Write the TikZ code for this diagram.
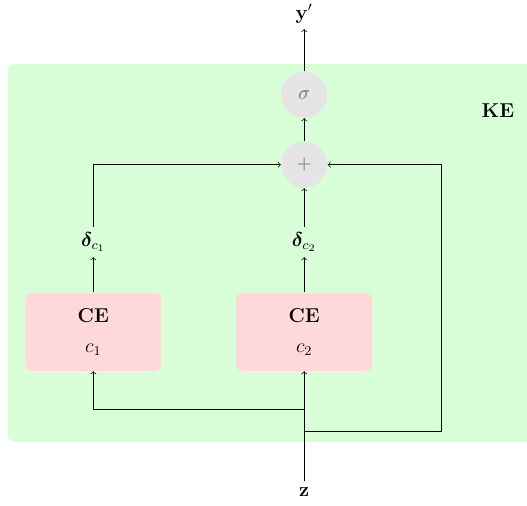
\documentclass[tikz,border=0pt]{standalone}
\usepackage{amsmath,amssymb,bm}
\usepackage{xcolor}
\usepackage{tikz}
\usetikzlibrary{positioning,calc,backgrounds}
\tikzstyle{ce}=[rectangle, rounded corners=4pt, fill=red!15,
  minimum width=2.86cm, minimum height=1.64cm, align=center]
\tikzstyle{op}=[circle, fill=black!10, minimum size=0.97cm, inner sep=0pt, text=black!60]
\tikzstyle{arrow}=[->]

\begin{document}
\begin{tikzpicture}[on grid, node distance=1.89cm and 4.43cm, every node/.style={font=\large}]
\node[ce] (ce2) {\textbf{CE}\\[4pt]$c_2$};
\node[ce,left=of ce2] (ce1) {\textbf{CE}\\[4pt]$c_1$};
\node[above=of ce2] (d2) {$\bm{\delta}_{c_2}$};
\node[above=of ce1] (d1) {$\bm{\delta}_{c_1}$};
\node[op,above=1.62cm of d2] (add) {$+$};
\node[op,above=1.47cm of add] (sig) {$\sigma$};
\node[above=1.70cm of sig] (yp) {$\mathbf{y}'$};
\node[below=3.36cm of ce2] (z) {$\mathbf{z}$};
\node[below right=0.34cm and 4.07cm of sig] (ke) {\textbf{KE}};
\coordinate[above=1.74cm of z] (s1);
\coordinate[above=1.28cm of z] (s2);
\coordinate[right=2.88cm of s2] (s3);
\draw[arrow] (ce1)--(d1); \draw[arrow] (ce2)--(d2);
\draw[arrow] (d2)--(add); \draw[arrow] (add)--(sig);
\draw[arrow] (sig)--(yp); \draw[arrow] (d1) |- (add);
\draw[arrow] (z)--(ce2);
\draw[arrow] (z)--(s1) -| (ce1);
\draw[arrow] (z)--(s2)--(s3) |- (add);
\begin{scope}[on background layer]
\fill[green!15, rounded corners=4pt] ($(ce1.west |- sig.north)+(-0.36,0.15)$) rectangle ($(s3)+(2.5,-0.23)$);
\end{scope}
\pgfresetboundingbox
\useasboundingbox ($(ce1.center |- yp.center)+(-1.96,0.29)$) rectangle ($(ce2.center |- z.center)+(4.68,-0.29)$);
\end{tikzpicture}
\end{document}
